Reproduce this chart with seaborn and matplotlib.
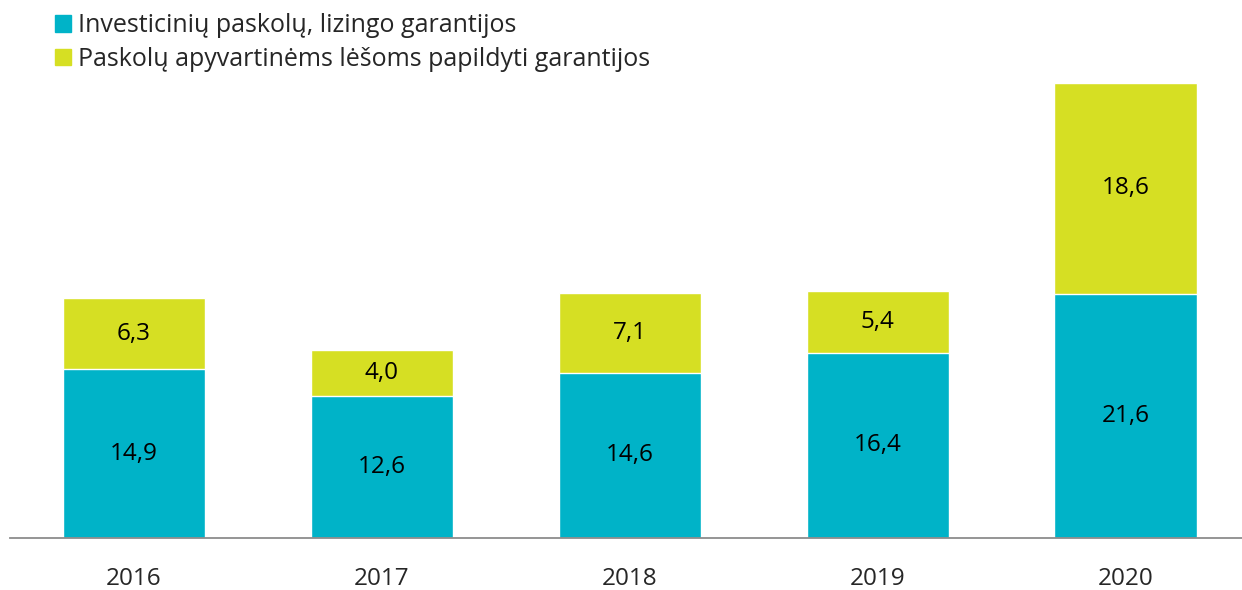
import seaborn as sns
import matplotlib.pyplot as plt
import pandas as pd
from matplotlib.patches import Patch

# -----------------------------------
# Data
# -----------------------------------
years = ["2016", "2017", "2018", "2019", "2020"]
invest = [14.9, 12.6, 14.6, 16.4, 21.6]
working = [6.3, 4.0, 7.1, 5.4, 18.6]
series_names = [
    "Investicinių paskolų, lizingo garantijos",
    "Paskolų apyvartinėms lėšoms papildyti garantijos",
]

teal = "#00B3C8"
lime = "#D6DF23"

df = pd.DataFrame({"year": years, "invest": invest, "working": working})
df["total"] = df["invest"] + df["working"]

sns.set_style("white")
plt.rcParams["font.family"] = ["Open Sans", "DejaVu Sans"]

# -----------------------------------
# Figure
# -----------------------------------
fig = plt.figure(figsize=(12.42, 5.90), dpi=100)
ax = fig.add_axes([0.008, 0.088, 0.992, 0.771])

# stacked: totals first, bottom segment drawn on top
sns.barplot(data=df, x="year", y="total", color=lime, width=0.573,
            saturation=1, ax=ax)
sns.barplot(data=df, x="year", y="invest", color=teal, width=0.573,
            saturation=1, ax=ax)

def fmt(v):
    return f"{v:.1f}".replace(".", ",")

ax.bar_label(ax.containers[1], labels=[fmt(v) for v in df["invest"]],
             label_type="center", fontsize=17.5, color="black")
for i, row in df.iterrows():
    ax.text(i, row["invest"] + row["working"] / 2, fmt(row["working"]),
            ha="center", va="center", fontsize=17.5, color="black")

ax.set_xlim(-0.5, 4.47)
ax.set_ylim(0, 40.2)
ax.set_xlabel("")
ax.set_ylabel("")
ax.set_yticks([])
ax.tick_params(axis="x", length=0, labelsize=17.5, pad=21)

for s in ["top", "right", "left"]:
    ax.spines[s].set_visible(False)
ax.spines["bottom"].set_color("#8c8c8c")
ax.spines["bottom"].set_linewidth(1.3)

# -----------------------------------
# Legend
# -----------------------------------
handles = [Patch(color=teal), Patch(color=lime)]
fig.legend(handles, series_names, loc="upper left",
           bbox_to_anchor=(0.036, 0.995), frameon=False,
           fontsize=18, handlelength=0.65, handleheight=0.65,
           handletextpad=0.3, labelspacing=0.35, borderaxespad=0)

plt.savefig("out.png", dpi=100)
